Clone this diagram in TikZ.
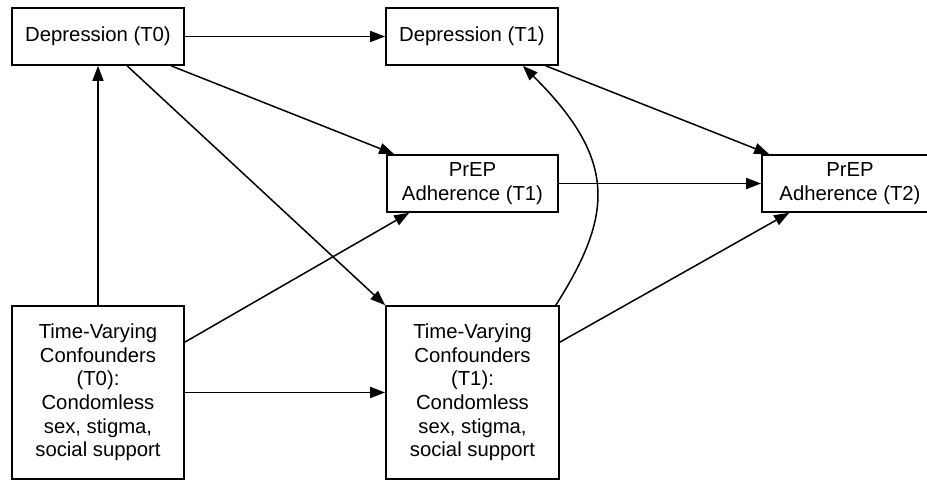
\documentclass[tikz,border=0pt]{standalone}
\usepackage{fontspec}
\setmainfont{Liberation Sans}
\usetikzlibrary{arrows.meta,calc}
\begin{document}
\begin{tikzpicture}[x=1pt,y=-1pt,
  box/.style={draw, line width=1.7pt, align=center, inner sep=0pt,
    font=\fontsize{20.3}{23.7}\selectfont},
  arr/.style={line width=1.5pt, -{Triangle[length=15pt,width=11pt]}}]
\useasboundingbox (0,0) rectangle (927,481);
\clip (0,0) rectangle (927,481);
\fill[white] (0,0) rectangle (927,481);
\node[box, minimum width=172pt, minimum height=57pt] (d0) at (98,36.5) {Depression (T0)};
\node[box, minimum width=172pt, minimum height=57pt] (d1) at (472,36.5) {Depression (T1)};
\node[box, minimum width=171pt, minimum height=57pt] (p1) at (472.5,183.5) {PrEP\\Adherence (T1)};
\node[box, minimum width=176pt, minimum height=57pt] (p2) at (850,183.5) {PrEP\\Adherence (T2)};
\node[box, minimum width=172pt, minimum height=173pt] (t0) at (98,392.5) {Time-Varying\\Confounders\\(T0):\\Condomless\\sex, stigma,\\social support};
\node[box, minimum width=173pt, minimum height=173pt] (t1) at (472.5,392.5) {Time-Varying\\Confounders\\(T1):\\Condomless\\sex, stigma,\\social support};
\draw[arr] (d0.east) -- (d1.west);
\draw[arr] (t0.north) -- (d0.south);
\draw[arr] ($(d0.south west)+(116,0)$) -- (t1.north west);
\draw[arr] ($(d0.south west)+(160,0)$) -- ($(p1.north west)+(8,0)$);
\draw[arr] ($(t0.north east)+(0,37)$) -- ($(p1.south west)+(23,0)$);
\draw[arr] (t0.east) -- (t1.west);
\draw[arr] ($(t1.north east)+(-4,0)$) .. controls (613,215) and (618,160) .. ($(d1.south east)+(-36,0)$);
\draw[arr] ($(d1.south east)+(-13,0)$) -- ($(p2.north west)+(8,0)$);
\draw[arr] (p1.east) -- (p2.west);
\draw[arr] ($(t1.north east)+(0,37)$) -- ($(p2.south west)+(28,0)$);
\end{tikzpicture}
\end{document}
